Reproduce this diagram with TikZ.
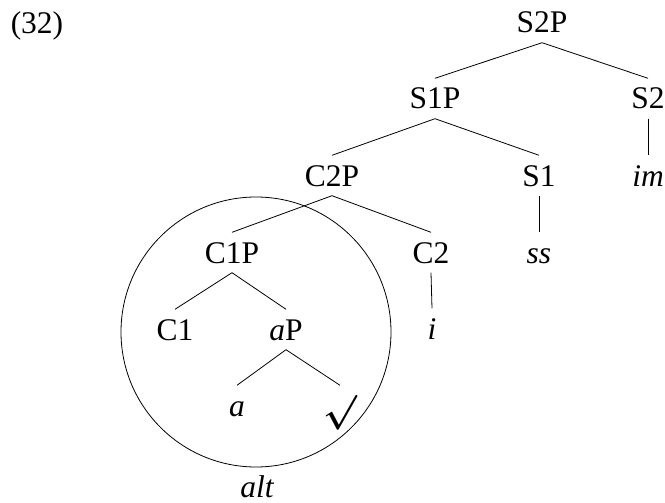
\documentclass[tikz,border=0pt]{standalone}
\usepackage{fontspec}
\setmainfont{Liberation Serif}
\begin{document}
\begin{tikzpicture}[x=1pt,y=-1pt,
  lbl/.style={anchor=base, inner xsep=0pt, inner ysep=9.5pt, text height=21pt, text depth=0pt,
    font=\fontsize{31.5}{36}\selectfont},
  br/.style={line width=0.8pt}]
\useasboundingbox (0,0) rectangle (665,503);
\node[lbl] (num) at (37,34) {(32)};
\node[lbl] (s2p) at (542,33) {S2P};
\node[lbl] (s1p) at (435,109) {S1P};
\node[lbl] (s2) at (648,109) {S2};
\node[lbl] (c2p) at (332,186) {C2P};
\node[lbl] (s1) at (539,186) {S1};
\node[lbl] (im) at (648,186) {\itshape im};
\node[lbl] (c1p) at (232,263) {C1P};
\node[lbl] (c2) at (431,263) {C2};
\node[lbl] (ss) at (539,263) {\itshape ss};
\node[lbl] (c1) at (175,340) {C1};
\node[lbl] (ap) at (286,340) {\itshape a\upshape P};
\node[lbl] (i) at (432,339) {\itshape i};
\node[lbl] (a) at (237,416) {\itshape a};
\node[lbl] (sq) at (340,416) {\raisebox{-6pt}{\scalebox{1.4}{\boldmath$\surd$}}};
\node[lbl, inner ysep=0pt] (alt) at (257,497) {\itshape alt};
\node[draw, circle, line width=0.8pt, minimum size=270pt, inner sep=0pt] (ring) at (256,332) {};
\draw[br] (s2p.south) -- (s1p.north);
\draw[br] (s2p.south) -- (s2.north);
\draw[br] (s2.south) -- (im.north);
\draw[br] (s1p.south) -- (c2p.north);
\draw[br] (s1p.south) -- (s1.north);
\draw[br] (s1.south) -- (ss.north);
\draw[br] (c2p.south) -- (c1p.north);
\draw[br] (c2p.south) -- (c2.north);
\draw[br] (c2.south) -- (i.north);
\draw[br] (c1p.south) -- (c1.north);
\draw[br] (c1p.south) -- (ap.north);
\draw[br] (ap.south) -- (a.north);
\draw[br] (ap.south) -- (sq.north);
\end{tikzpicture}
\end{document}
